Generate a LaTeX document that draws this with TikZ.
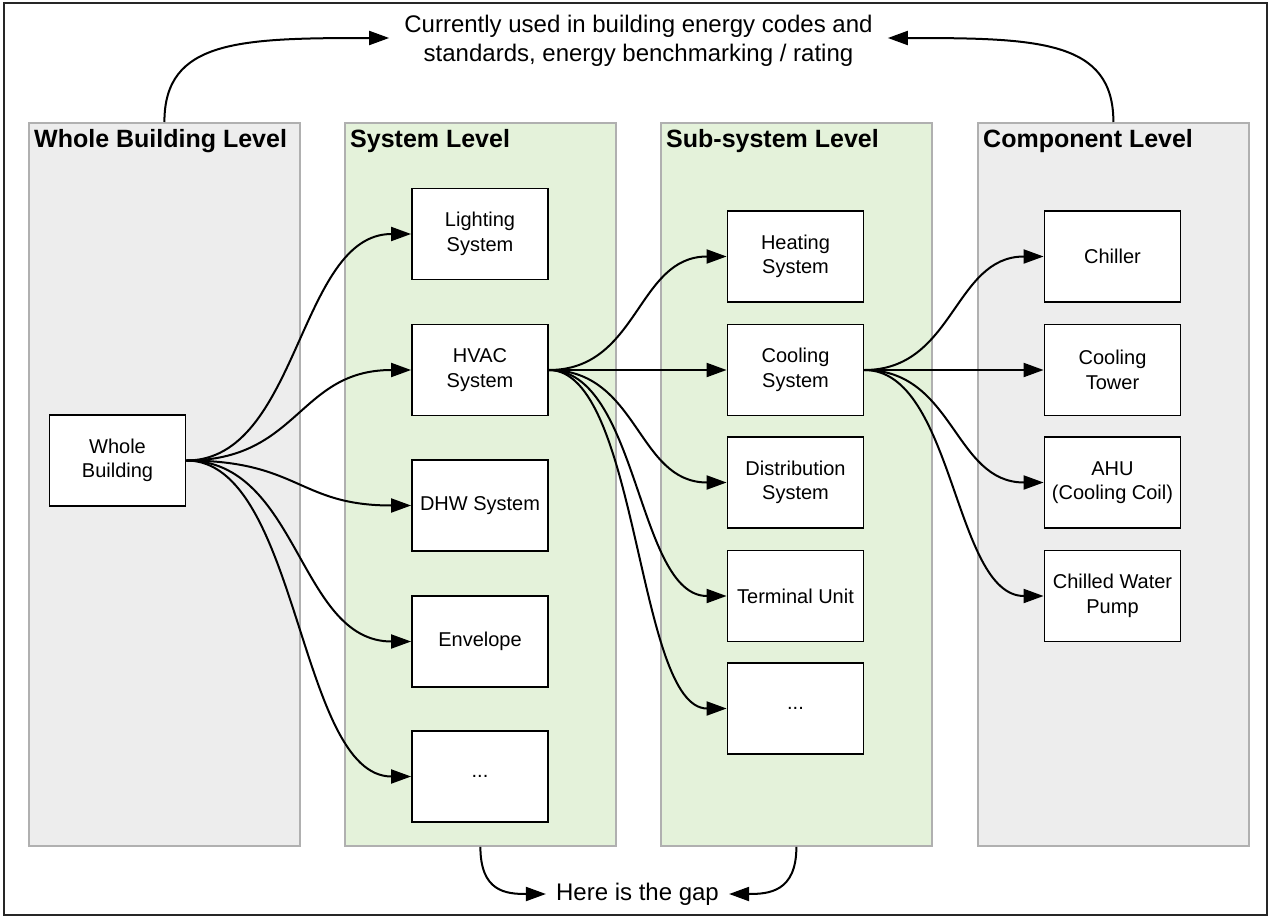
\documentclass[tikz,border=0pt]{standalone}
\usepackage{fontspec}
\setmainfont{Liberation Sans}
\usetikzlibrary{arrows.meta,calc}
\definecolor{colgray}{HTML}{EDEDED}
\definecolor{colgreen}{HTML}{E4F2DA}
\definecolor{colborder}{HTML}{B0B0B0}
\begin{document}
\begin{tikzpicture}[x=1pt,y=-1pt,
  column/.style={draw=colborder, line width=1.8pt, minimum width=271pt, minimum height=723pt, inner sep=0pt, anchor=north west},
  coltitle/.style={anchor=base west, inner sep=0pt, font=\fontsize{25}{29}\selectfont\bfseries},
  box/.style={draw=black, line width=1.8pt, fill=white, minimum width=136pt, minimum height=91pt, inner sep=2pt, align=center, font=\fontsize{20}{24.5}\selectfont},
  conn/.style={draw=black, line width=2pt, -{Triangle[length=20pt,width=14pt]}},
  bigtext/.style={align=center, font=\fontsize{24}{29}\selectfont}
]
\useasboundingbox (0,0) rectangle (1270,918);
\draw[line width=2pt, draw=black!85] (4,3) rectangle (1267,915);

% columns
\node[column, fill=colgray]  (colWB) at (28,122) {};
\node[column, fill=colgreen] (colS)  at (344,122) {};
\node[column, fill=colgreen] (colSS) at (660,122) {};
\node[column, fill=colgray]  (colC)  at (977,122) {};

\node[coltitle] (tWB) at (34,147.5) {Whole Building Level};
\node[coltitle] (tS)  at (350,147.5) {System Level};
\node[coltitle] (tSS) at (666,147.5) {Sub-system Level};
\node[coltitle] (tC)  at (983,147.5) {Component Level};

% texts
\node[bigtext, inner xsep=15pt] (top) at (638.5,41) {Currently used in building energy codes and\\standards, energy benchmarking / rating};
\node[bigtext, inner xsep=10pt] (gap) at (637.5,894) {Here is the gap};

% boxes
\node[box] (wb) at (117.5,460.5) {Whole\\Building};

\node[box] (light) at (480,234)   {Lighting\\System};
\node[box] (hvac)  at (480,370)   {HVAC\\System};
\node[box] (dhw)   at (480,505.5) {DHW System};
\node[box] (env)   at (480,641.5) {Envelope};
\node[box] (sdots) at (480,776.5) {...};

\node[box] (heat)  at (795.5,256.5) {Heating\\System};
\node[box] (cool)  at (795.5,370)   {Cooling\\System};
\node[box] (dist)  at (795.5,482.5) {Distribution\\System};
\node[box] (term)  at (795.5,596)   {Terminal Unit};
\node[box] (ssdots) at (795.5,708.5) {...};

\node[box] (chiller) at (1112.5,256.5) {Chiller};
\node[box] (tower)   at (1112.5,370)   {Cooling\\Tower};
\node[box] (ahu)     at (1112.5,482.5) {AHU\\(Cooling Coil)};
\node[box] (pump)    at (1112.5,596)   {Chilled Water\\Pump};

% connectors
\foreach \t in {light,hvac,dhw,env,sdots}
  \draw[conn] (wb.east) .. controls +(113,0) and +(-113,0) .. (\t.west);
\foreach \t in {heat,cool,dist,term,ssdots}
  \draw[conn] (hvac.east) .. controls +(90,0) and +(-90,0) .. (\t.west);
\foreach \t in {chiller,tower,ahu,pump}
  \draw[conn] (cool.east) .. controls +(90,0) and +(-90,0) .. (\t.west);

\draw[conn] (colWB.north) .. controls +(0,-82) and +(-150,0) .. ($(top.west)+(0,-3)$);
\draw[conn] (colC.north) .. controls +(0,-82) and +(150,0) .. ($(top.east)+(0,-3)$);
\draw[conn] (colS.south) .. controls +(0,45) and +(-40,0) .. (gap.west);
\draw[conn] (colSS.south) .. controls +(0,45) and +(40,0) .. (gap.east);
\end{tikzpicture}
\end{document}
